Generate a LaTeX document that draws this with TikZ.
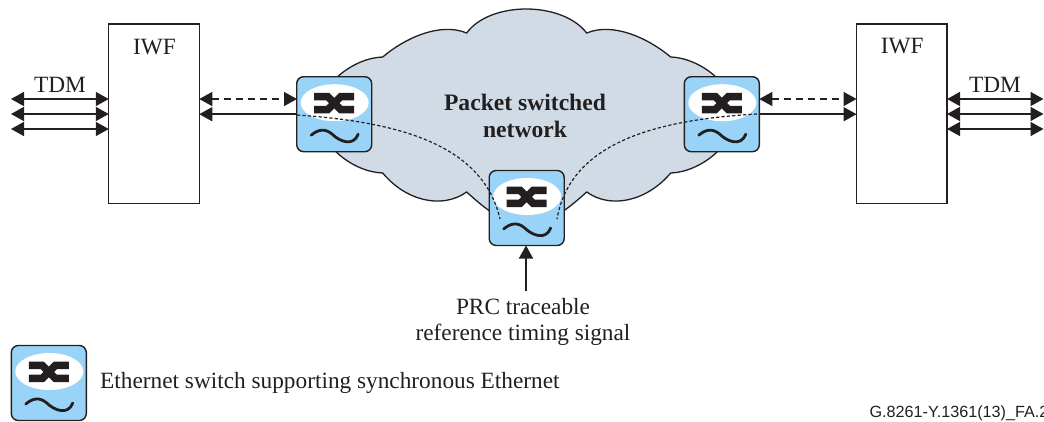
\documentclass[tikz,border=0pt]{standalone}
\usepackage{fontspec}
\setmainfont{Liberation Serif}
\setsansfont{Liberation Sans}
\usetikzlibrary{arrows.meta,shapes.geometric}

\definecolor{inkdark}{HTML}{231F20}
\definecolor{cloudgrey}{HTML}{D1DBE6}
\definecolor{switchblue}{HTML}{99D3F7}

\tikzset{
  iwfbox/.style={draw=inkdark,line width=1.4pt,fill=white,minimum width=90.5pt,minimum height=179.5pt,inner sep=0pt,outer sep=0pt},
  swbox/.style={draw=inkdark,line width=1.4pt,fill=switchblue,rounded corners=7pt,minimum size=75pt,inner sep=0pt,outer sep=0pt},
  swhole/.style={ellipse,fill=white,minimum width=68pt,minimum height=37pt,inner sep=0pt,outer sep=0pt},
  swcross/.style={draw=inkdark,line width=7.5pt},
  swwave/.style={draw=inkdark,line width=2.8pt,line cap=round},
  biline/.style={draw=inkdark,line width=1.6pt,{Triangle[length=13pt,width=14pt]}-{Triangle[length=13pt,width=14pt]}},
  oneline/.style={draw=inkdark,line width=1.6pt,-{Triangle[length=13pt,width=14pt]}},
  dashline/.style={biline,line width=1.4pt,dash pattern=on 7pt off 5pt},
  timing/.style={draw=inkdark,line width=1.2pt,dash pattern=on 3.2pt off 2.2pt},
  lbl/.style={text=inkdark,font=\fontsize{23.3}{26}\selectfont,inner sep=0pt,align=center},
}

% Ethernet switch symbol: name, centre
\newcommand{\ethswitch}[2]{
  \node[swbox] (#1) at (#2) {};
  \node[swhole] (#1hole) at ([shift={(0.5,-11.5)}]#1.center) {};
  \begin{scope}[shift={(#1.center)}]
    \draw[swcross] (-20,-17.6) -- (-6.5,-17.6) -- (6.5,-4.6) -- (20,-4.6);
    \draw[swcross] (-20,-4.6) -- (-6.5,-4.6) -- (6.5,-17.6) -- (20,-17.6);
    \draw[swwave] (-23,21) .. controls (-16,15) and (-9,14) .. (-2,20) .. controls (5,27) and (19,33) .. (24,20);
  \end{scope}
}

\begin{document}
\begin{tikzpicture}[x=1pt,y=-1pt]
\useasboundingbox (0,0) rectangle (1044,421);

% Cloud
\draw[draw=inkdark,line width=1.3pt,fill=cloudgrey]
  (382.7,57) .. controls (405,38) and (440,22) .. (466.7,33)
  .. controls (490,1) and (562,1) .. (586.7,33)
  .. controls (613,22) and (648,38) .. (670.7,57)
  .. controls (700,58) and (735,85) .. (735,115)
  .. controls (735,145) and (700,172) .. (670.7,173)
  .. controls (648,200) and (612,210) .. (586.7,192)
  .. controls (572,205) and (550,225) .. (526.7,225)
  .. controls (503,225) and (481,205) .. (466.7,192)
  .. controls (441,210) and (405,200) .. (382.7,173)
  .. controls (353,172) and (318.4,145) .. (318.4,115)
  .. controls (318.4,85) and (353,58) .. (382.7,57) -- cycle;
\node[lbl,font=\fontsize{23.6}{27}\selectfont\bfseries] (netlabel) at (525,115.5) {Packet switched\\network};

% IWF boxes
\node[iwfbox] (iwfl) at (154,113.8) {};
\node[iwfbox] (iwfr) at (901.8,113.8) {};
\node[lbl] (iwfltext) at (154.5,47.5) {IWF};
\node[lbl] (iwfrtext) at (902.3,46.5) {IWF};

% Switches
\ethswitch{swl}{334.2,114.2}
\ethswitch{swr}{721.8,114.2}
\ethswitch{swc}{526.7,208}
\ethswitch{swkey}{48.8,383}

% TDM lines, left
\coordinate (tdmla) at (11,99);
\coordinate (tdmlb) at (11,114);
\coordinate (tdmlc) at (11,129);
\draw[biline] (tdmla) -- (tdmla -| iwfl.west);
\draw[biline] (tdmlb) -- (tdmlb -| iwfl.west);
\draw[biline] (tdmlc) -- (tdmlc -| iwfl.west);
\node[lbl] (tdmltext) at (60,84.5) {TDM};

% TDM lines, right
\coordinate (tdmra) at (1043.5,99);
\coordinate (tdmrb) at (1043.5,114);
\coordinate (tdmrc) at (1043.5,129);
\draw[biline] (tdmra -| iwfr.east) -- (tdmra);
\draw[biline] (tdmrb -| iwfr.east) -- (tdmrb);
\draw[biline] (tdmrc -| iwfr.east) -- (tdmrc);
\node[lbl] (tdmrtext) at (995,84.5) {TDM};

% Links between IWF and switches
\coordinate (dashl) at (297,99);
\coordinate (dashr) at (759.3,99);
\draw[dashline] (iwfl.east |- dashl) -- (dashl);
\draw[dashline] (dashr) -- (iwfr.west |- dashr);
\draw[oneline] (swl.west) -- (iwfl.east |- swl.west);
\draw[oneline] (swr.east) -- (iwfr.west |- swr.east);

% Timing paths
\coordinate (timel) at (297,115);
\coordinate (timer) at (757,114);
\coordinate (timecl) at (500,219);
\coordinate (timecr) at (557,219);
\draw[timing] (timel) .. controls (400,122) and (483,145) .. (timecl);
\draw[timing] (timer) .. controls (650,120) and (570,145) .. (timecr);

% Reference input
\node[lbl] (prctext) at (523,321.5) {PRC traceable\\reference timing signal};
\coordinate (prcin) at (526,291);
\draw[oneline] (prcin) -- (prcin |- swc.south);

% Key
\node[lbl,anchor=west] (keytext) at (100,383) {Ethernet switch supporting synchronous Ethernet};

% Figure number
\node[text=inkdark,font=\sffamily\fontsize{16.2}{17}\selectfont,anchor=west,inner sep=0pt] (figno) at (869.3,413) {G.8261-Y.1361(13)\_FA.2};
\end{tikzpicture}
\end{document}
